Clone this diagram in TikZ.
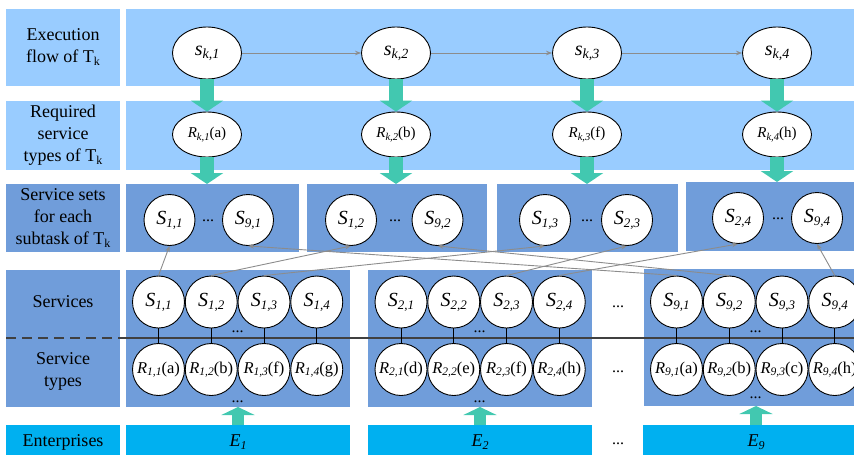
\documentclass[tikz,border=0pt]{standalone}
\usepackage{fontspec}
\setmainfont{Liberation Serif}
\usetikzlibrary{arrows.meta,shapes.geometric}
\definecolor{lightb}{RGB}{153,204,255}
\definecolor{midb}{RGB}{112,157,218}
\definecolor{cyanb}{RGB}{0,176,240}
\definecolor{tealb}{RGB}{66,200,176}
\definecolor{grayl}{RGB}{140,140,140}
\definecolor{darkl}{RGB}{64,64,64}
\newcommand{\fs}[1]{\fontsize{#1}{#1}\selectfont}
\newcommand{\Tk}{T\raisebox{-3pt}{\fs{12}k}}
\newcommand{\xsk}[1]{{\fs{20}\itshape s}\raisebox{-3pt}{\fs{14}\itshape k,#1}}
\newcommand{\xRk}[2]{{\fs{15}\itshape R}\raisebox{-2.5pt}{\fs{10.5}\itshape k,#1}{\fs{15}(#2)}}
\newcommand{\xSs}[1]{{\fs{20}\itshape S}\raisebox{-3pt}{\fs{13}\itshape #1}}
\newcommand{\xRt}[2]{{\fs{16.5}\itshape R}\raisebox{-2.5pt}{\fs{11.5}\itshape #1}{\fs{16.5}(#2)}}
\newcommand{\xEe}[1]{{\fs{18}\itshape E}\raisebox{-3pt}{\fs{12}\itshape #1}}
\tikzset{
  panel/.style={rectangle, inner sep=0pt, outer sep=0pt, anchor=north west, align=center, font=\fontsize{18}{22}\selectfont},
  lbl/.style={align=center, font=\fontsize{18}{22}\selectfont, inner sep=0pt},
  ell/.style={ellipse, draw=black, line width=0.9pt, fill=white, minimum width=69pt, minimum height=52pt, inner sep=0pt},
  ellb/.style={ell, minimum height=45pt},
  setc/.style={circle, draw=black, line width=0.9pt, fill=white, minimum size=51pt, inner sep=0pt},
  svc/.style={circle, draw=black, line width=0.9pt, fill=white, minimum size=52pt, inner sep=0pt},
  fatdown/.style={draw=tealb, line width=14pt, -{Triangle[width=32pt,length=11pt]}},
  fatup/.style={draw=tealb, line width=12pt, -{Triangle[width=33pt,length=8pt]}},
  flow/.style={draw=grayl, line width=0.9pt, -{Stealth[length=6pt,width=4.5pt]}},
  dots/.style={font=\fs{16}, inner sep=0pt},
  tie/.style={draw=black, line width=0.9pt}
}
\begin{document}
\begin{tikzpicture}[x=1pt,y=-1pt]
\useasboundingbox (0,0) rectangle (854,455);
\clip (0,0) rectangle (854,455);
% label column and panels
\node[panel, fill=lightb, minimum width=114pt, minimum height=77pt] (L1) at (6,9) {Execution\\flow of \Tk};
\node[panel, fill=lightb, minimum width=740pt, minimum height=77pt] (P1) at (126,9) {};
\node[panel, fill=lightb, minimum width=114pt, minimum height=69pt] (L2) at (6,101) {Required\\service\\types of \Tk};
\node[panel, fill=lightb, minimum width=740pt, minimum height=69pt] (P2) at (126,101) {};
\node[panel, fill=midb, minimum width=114pt, minimum height=68pt] (L3) at (6,184) {Service sets\\for each\\subtask of \Tk};
\node[panel, fill=midb, minimum width=173pt, minimum height=68pt] (q1) at (126,184) {};
\node[panel, fill=midb, minimum width=180pt, minimum height=68pt] (q2) at (307,184) {};
\node[panel, fill=midb, minimum width=181pt, minimum height=68pt] (q3) at (497,184) {};
\node[panel, fill=midb, minimum width=182pt, minimum height=69pt] (q4) at (686,182) {};
\node[panel, fill=midb, minimum width=114pt, minimum height=137pt] (L4) at (6,270) {};
\node[lbl] (L4a) at (63,302) {Services};
\node[lbl] (L4b) at (63,371.5) {Service\\types};
\node[panel, fill=midb, minimum width=224pt, minimum height=137pt] (r1) at (126,270) {};
\node[panel, fill=midb, minimum width=224pt, minimum height=137pt] (r2) at (368,270) {};
\node[panel, fill=midb, minimum width=224pt, minimum height=137pt] (r9) at (644,269) {};
\node[panel, fill=cyanb, minimum width=114pt, minimum height=35pt] (L5) at (6,425) {Enterprises};
\node[panel, fill=cyanb, minimum width=224pt, minimum height=35pt] (e1) at (126,425) {\xEe{1}};
\node[panel, fill=cyanb, minimum width=224pt, minimum height=35pt] (e2) at (368,425) {\xEe{2}};
\node[panel, fill=cyanb, minimum width=226pt, minimum height=35pt] (e9) at (643,425) {\xEe{9}};
% divider
\coordinate (dl) at (6,338);
\coordinate (dm) at (122,338);
\coordinate (dr) at (854,338);
\draw[darkl, line width=1.1pt, dash pattern=on 10pt off 6pt] (dl) -- (dm);
\draw[darkl, line width=1.1pt] (dm) -- (dr);
% row 1: execution flow
\node[ell] (sk1) at (207,53) {\xsk{1}};
\node[ell] (sk2) at (396,53) {\xsk{2}};
\node[ell] (sk3) at (587,53) {\xsk{3}};
\node[ell] (sk4) at (777,53) {\xsk{4}};
% row 2: required types
\node[ellb] (rk1) at (207,134.5) {\xRk{1}{a}};
\node[ellb] (rk2) at (396,134.5) {\xRk{2}{b}};
\node[ellb] (rk3) at (587,134.5) {\xRk{3}{f}};
\node[ellb] (rk4) at (777,134.5) {\xRk{4}{h}};
% row 3: service sets
\node[setc] (a11) at (169.5,220) {\xSs{1,1}};
\node[dots] (d1) at (208,221) {...};
\node[setc] (a91) at (248,220) {\xSs{9,1}};
\node[setc] (a12) at (351,220) {\xSs{1,2}};
\node[dots] (d2) at (395,221) {...};
\node[setc] (a92) at (437.5,220) {\xSs{9,2}};
\node[setc] (a13) at (545,220) {\xSs{1,3}};
\node[dots] (d3) at (587,221) {...};
\node[setc] (a23) at (627,220) {\xSs{2,3}};
\node[setc] (a24) at (738,218) {\xSs{2,4}};
\node[dots] (d4) at (778,219) {...};
\node[setc] (a94) at (817,218) {\xSs{9,4}};
% row 4: services and types, enterprise 1
\node[svc] (s11) at (158.5,302) {\xSs{1,1}};
\node[svc] (s12) at (211.25,302) {\xSs{1,2}};
\node[svc] (s13) at (264,302) {\xSs{1,3}};
\node[svc] (s14) at (316.75,302) {\xSs{1,4}};
\node[svc] (t11) at (158.5,369.5) {\xRt{1,1}{a}};
\node[svc] (t12) at (211.25,369.5) {\xRt{1,2}{b}};
\node[svc] (t13) at (264,369.5) {\xRt{1,3}{f}};
\node[svc] (t14) at (316.75,369.5) {\xRt{1,4}{g}};
% enterprise 2
\node[svc] (s21) at (401,302) {\xSs{2,1}};
\node[svc] (s22) at (453.75,302) {\xSs{2,2}};
\node[svc] (s23) at (506.5,302) {\xSs{2,3}};
\node[svc] (s24) at (559.25,302) {\xSs{2,4}};
\node[svc] (t21) at (401,369.5) {\xRt{2,1}{d}};
\node[svc] (t22) at (453.75,369.5) {\xRt{2,2}{e}};
\node[svc] (t23) at (506.5,369.5) {\xRt{2,3}{f}};
\node[svc] (t24) at (559.25,369.5) {\xRt{2,4}{h}};
% enterprise 9
\node[svc] (s91) at (676.5,302) {\xSs{9,1}};
\node[svc] (s92) at (729.25,302) {\xSs{9,2}};
\node[svc] (s93) at (782,302) {\xSs{9,3}};
\node[svc] (s94) at (834.75,302) {\xSs{9,4}};
\node[svc] (t91) at (676.5,369.5) {\xRt{9,1}{a}};
\node[svc] (t92) at (729.25,369.5) {\xRt{9,2}{b}};
\node[svc] (t93) at (782,369.5) {\xRt{9,3}{c}};
\node[svc] (t94) at (834.75,369.5) {\xRt{9,4}{h}};
% dots in row 4
\node[dots] (d5) at (237.5,332) {...};
\node[dots] (d6) at (237.5,402) {...};
\node[dots] (d7) at (479.5,332) {...};
\node[dots] (d8) at (479.5,402) {...};
\node[dots] (d9) at (755.5,332) {...};
\node[dots] (d10) at (755.5,398) {...};
\node[dots] (d11) at (618,307) {...};
\node[dots] (d12) at (618,372) {...};
\node[dots] (d13) at (618,444) {...};
% ties between services and types
\foreach \e in {1,2,9}{\foreach \j in {1,2,3,4}{\draw[tie] (s\e\j) -- (t\e\j);}}
% teal arrows
\draw[fatdown] (sk1) -- (rk1);
\draw[fatdown] (sk2) -- (rk2);
\draw[fatdown] (sk3) -- (rk3);
\draw[fatdown] (sk4) -- (rk4);
\draw[fatdown] (rk1) -- (rk1 |- q1.north);
\draw[fatdown] (rk2) -- (rk2 |- q2.north);
\draw[fatdown] (rk3) -- (rk3 |- q3.north);
\draw[fatdown] (rk4) -- (rk4 |- q4.north);
\draw[fatup] (e1.north) -- (e1.north |- r1.south);
\draw[fatup] (e2.north) -- (e2.north |- r2.south);
\draw[fatup] (e9.north) -- (e9.north |- r9.south);
% execution flow arrows
\draw[flow] (sk1) -- (sk2);
\draw[flow] (sk2) -- (sk3);
\draw[flow] (sk3) -- (sk4);
% services to service sets
\draw[flow] (s11.north) -- (a11.south);
\draw[flow] (s12.north) -- (a12.south);
\draw[flow] (s13.north) -- (a13.south);
\draw[flow] (s91.north) -- (a91.south);
\draw[flow] (s92.north) -- (a92.south);
\draw[flow] (s23.north) -- (a23.south);
\draw[flow] (s24.north) -- (a24.south);
\draw[flow] (s94.north) -- (a94.south);
\end{tikzpicture}
\end{document}
